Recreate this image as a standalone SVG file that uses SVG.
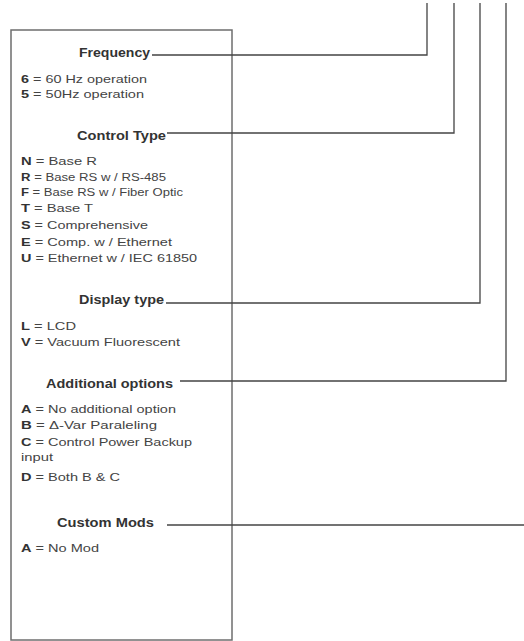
<svg xmlns="http://www.w3.org/2000/svg" width="524" height="641" viewBox="0 0 524 641">
<style>
text{font-family:"Liberation Sans",Arial,sans-serif;fill:#444;}
.h{font-weight:bold;font-size:12px;fill:#333;}
.i{font-size:11.5px;}
.s{font-size:10px;}
.k{font-weight:bold;fill:#333;}
.c{fill:none;stroke:#444;stroke-width:1.3;}
.box{fill:#fff;stroke:#6e6e6e;stroke-width:1.5;}
</style>
<rect width="524" height="641" fill="#fff"/>
<g id="legend-box">
<rect class="box" x="11" y="30" width="221" height="610"/>
</g>
<g id="frequency">
<text class="h" x="79" y="57" textLength="71" lengthAdjust="spacingAndGlyphs">Frequency</text>
<text class="i" x="21" y="83" textLength="126" lengthAdjust="spacingAndGlyphs"><tspan class="k">6</tspan> = 60 Hz operation</text>
<text class="i" x="21" y="98" textLength="123" lengthAdjust="spacingAndGlyphs"><tspan class="k">5</tspan> = 50Hz operation</text>
</g>
<g id="control-type">
<text class="h" x="77" y="140" textLength="89" lengthAdjust="spacingAndGlyphs">Control Type</text>
<text class="i" x="21" y="165" textLength="76" lengthAdjust="spacingAndGlyphs"><tspan class="k">N</tspan> = Base R</text>
<text class="s" x="21" y="181" textLength="145" lengthAdjust="spacingAndGlyphs"><tspan class="k">R</tspan> = Base RS w / RS-485</text>
<text class="s" x="21" y="196" textLength="162" lengthAdjust="spacingAndGlyphs"><tspan class="k">F</tspan> = Base RS w / Fiber Optic</text>
<text class="i" x="21" y="212" textLength="72" lengthAdjust="spacingAndGlyphs"><tspan class="k">T</tspan> = Base T</text>
<text class="i" x="21" y="229" textLength="127" lengthAdjust="spacingAndGlyphs"><tspan class="k">S</tspan> = Comprehensive</text>
<text class="i" x="21" y="246" textLength="151" lengthAdjust="spacingAndGlyphs"><tspan class="k">E</tspan> = Comp. w / Ethernet</text>
<text class="i" x="21" y="262" textLength="176" lengthAdjust="spacingAndGlyphs"><tspan class="k">U</tspan> = Ethernet w / IEC 61850</text>
</g>
<g id="display-type">
<text class="h" x="79" y="304" textLength="85" lengthAdjust="spacingAndGlyphs">Display type</text>
<text class="i" x="21" y="330" textLength="55" lengthAdjust="spacingAndGlyphs"><tspan class="k">L</tspan> = LCD</text>
<text class="i" x="21" y="346" textLength="159" lengthAdjust="spacingAndGlyphs"><tspan class="k">V</tspan> = Vacuum Fluorescent</text>
</g>
<g id="additional-options">
<text class="h" x="46" y="388" textLength="127" lengthAdjust="spacingAndGlyphs">Additional options</text>
<text class="i" x="21" y="413" textLength="155" lengthAdjust="spacingAndGlyphs"><tspan class="k">A</tspan> = No additional option</text>
<text class="i" x="21" y="429" textLength="136" lengthAdjust="spacingAndGlyphs"><tspan class="k">B</tspan> = Δ-Var Paraleling</text>
<text class="i" x="21" y="446" textLength="171" lengthAdjust="spacingAndGlyphs"><tspan class="k">C</tspan> = Control Power Backup</text>
<text class="i" x="21" y="461" textLength="32" lengthAdjust="spacingAndGlyphs">input</text>
<text class="i" x="21" y="481" textLength="99" lengthAdjust="spacingAndGlyphs"><tspan class="k">D</tspan> = Both B &amp; C</text>
</g>
<g id="custom-mods">
<text class="h" x="57" y="527" textLength="97" lengthAdjust="spacingAndGlyphs">Custom Mods</text>
<text class="i" x="21" y="552" textLength="78" lengthAdjust="spacingAndGlyphs"><tspan class="k">A</tspan> = No Mod</text>
</g>
<g id="connectors">
<polyline class="c" points="152,55 427,55 427,3"/>
<polyline class="c" points="167,133 454,133 454,3"/>
<polyline class="c" points="166,303 480,303 480,3"/>
<polyline class="c" points="180,381 506,381 506,3"/>
<line class="c" x1="167" y1="525" x2="524" y2="525"/>
</g>
</svg>
